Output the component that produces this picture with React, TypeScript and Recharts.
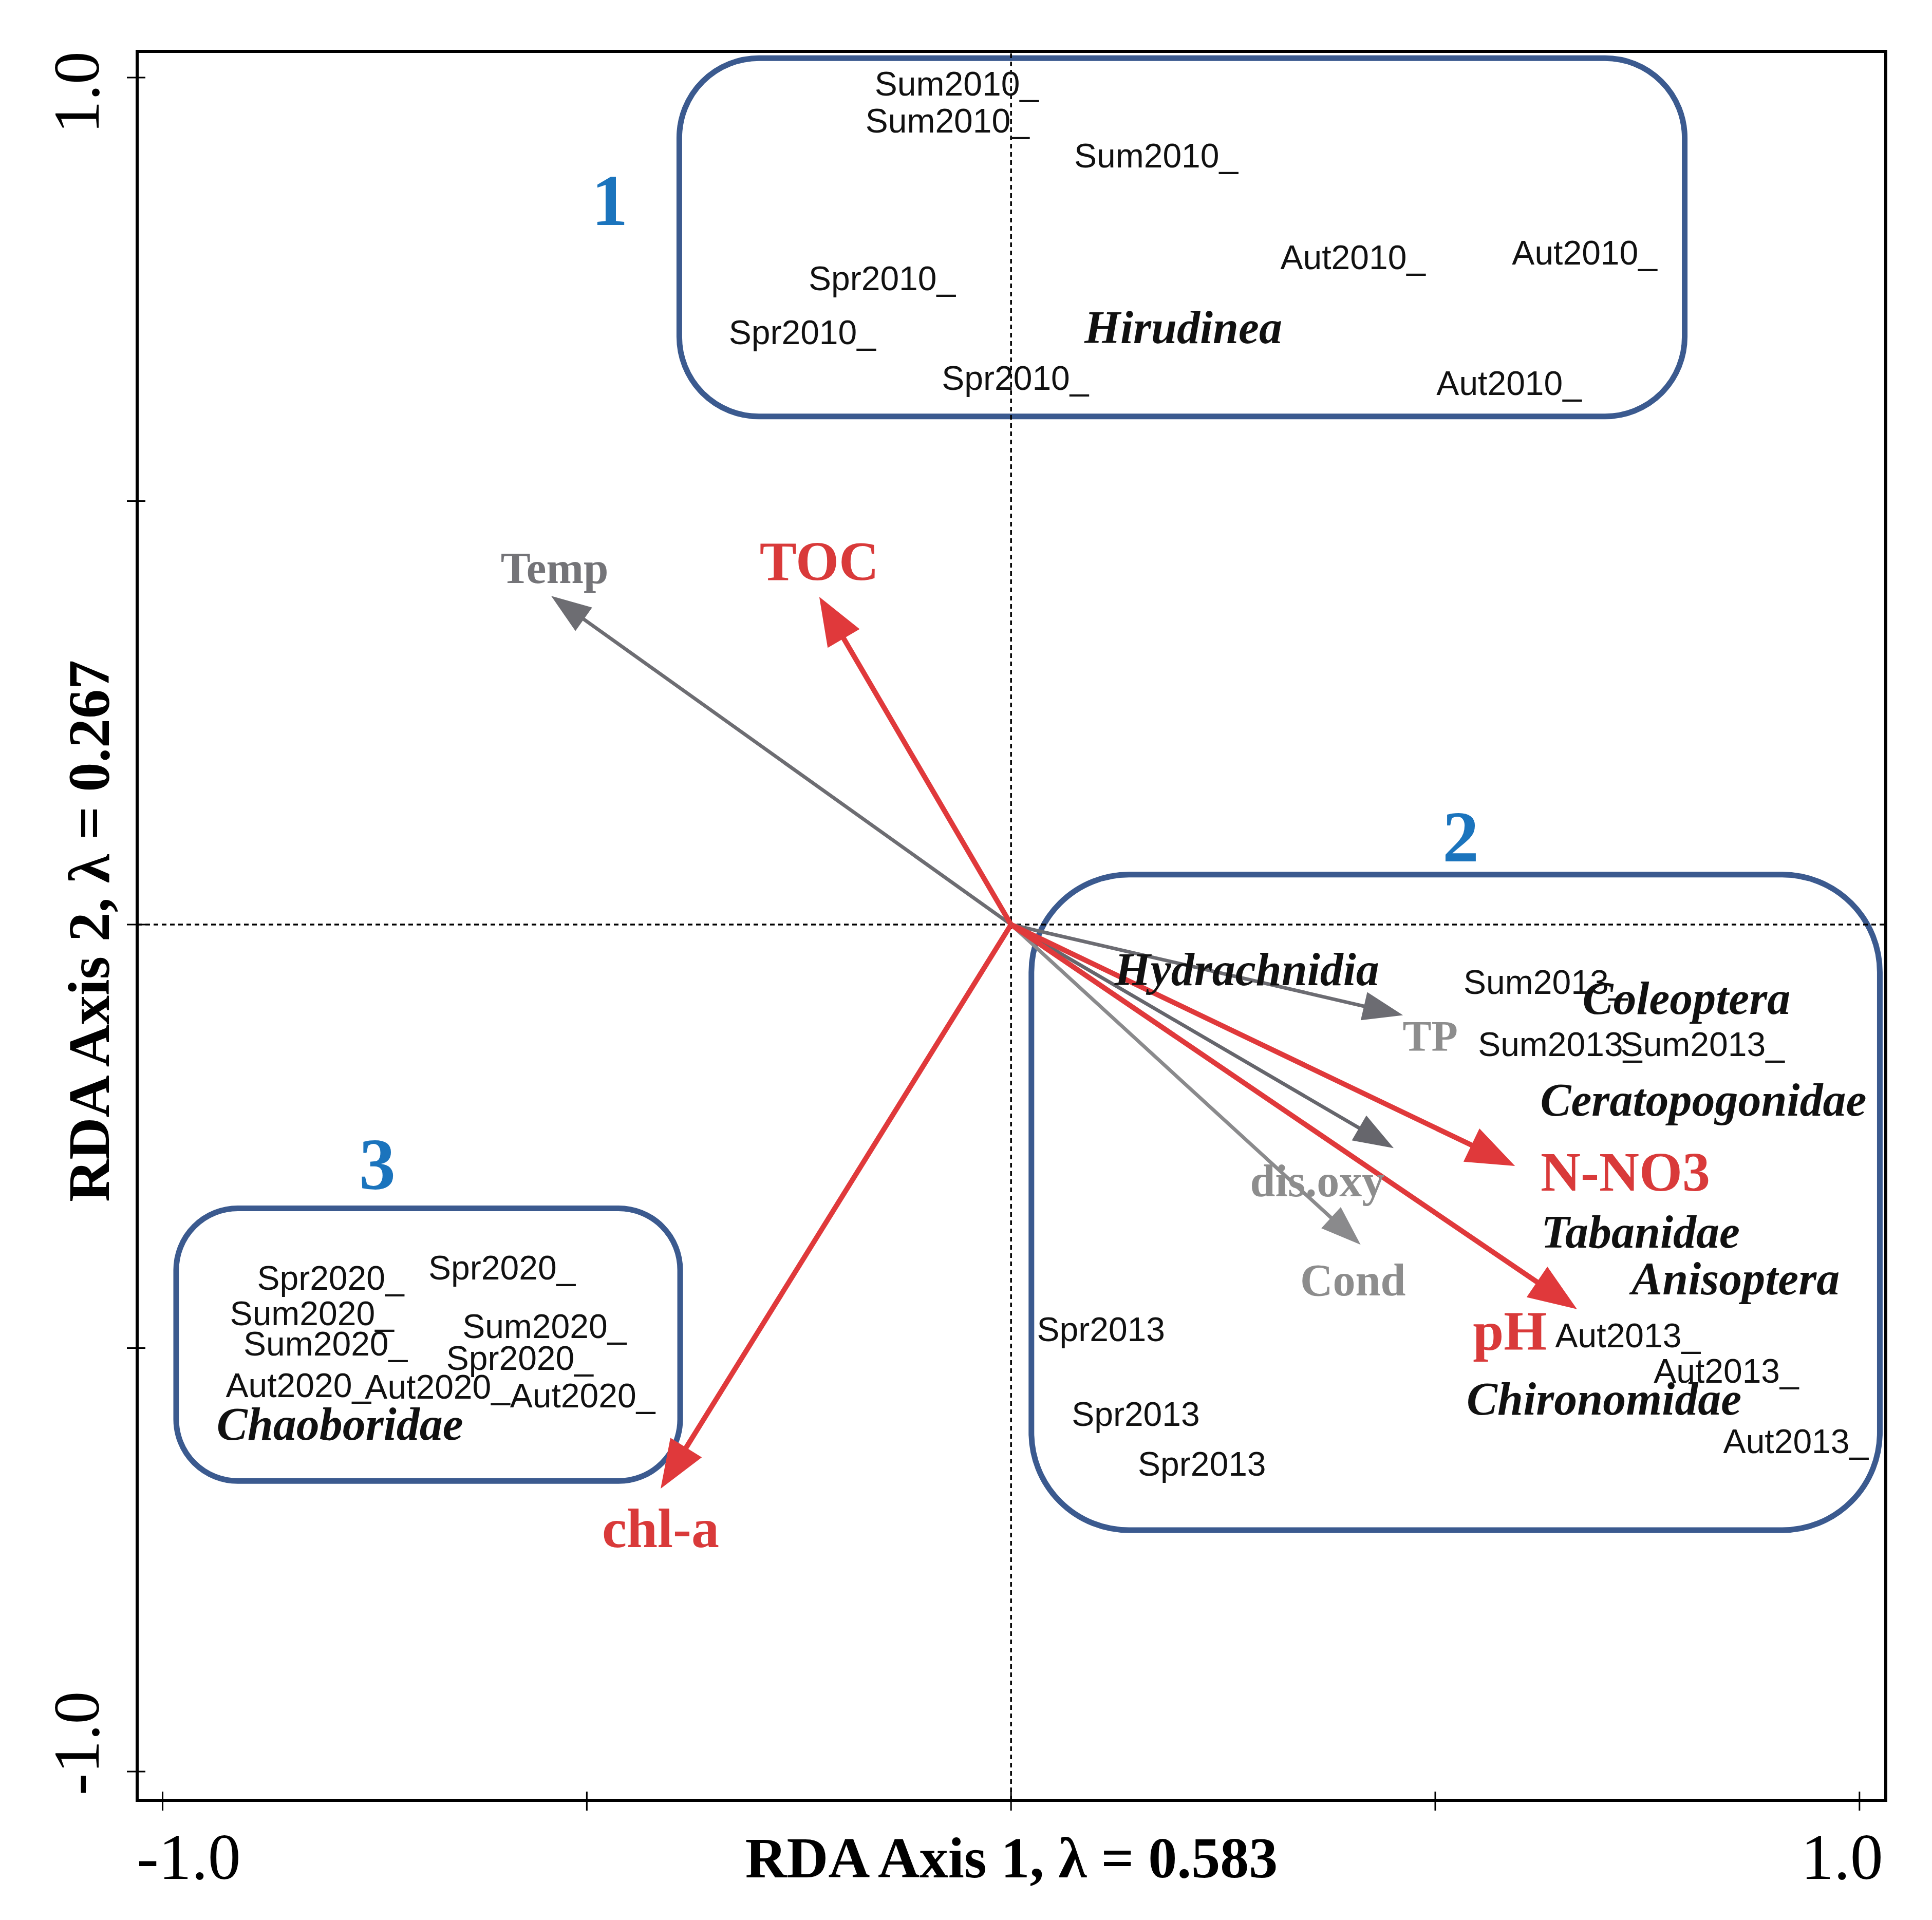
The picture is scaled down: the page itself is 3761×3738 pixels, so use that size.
import {
  ReferenceArea,
  ReferenceLine,
  Scatter,
  ScatterChart,
  XAxis,
  YAxis,
} from "recharts";

// site scores (sample labels)
const sampleNames = [
  "Sum2010_", "Sum2010_", "Sum2010_", "Spr2010_", "Spr2010_", "Spr2010_", "Aut2010_", "Aut2010_", "Aut2010_",
  "Sum2013_", "Sum2013_", "Sum2013_", "Spr2013", "Spr2013", "Spr2013", "Aut2013_", "Aut2013_", "Aut2013_",
  "Spr2020_", "Spr2020_", "Sum2020_", "Sum2020_", "Sum2020_", "Spr2020_", "Aut2020_", "Aut2020_", "Aut2020_",
];
const sampleAxis1 = [
  -0.064, -0.075, 0.171, -0.152, -0.246, 0.005, 0.403, 0.676, 0.587,
  0.63, 0.647, 0.815, 0.106, 0.147, 0.225, 0.727, 0.843, 0.925,
  -0.802, -0.6, -0.824, -0.808, -0.55, -0.579, -0.84, -0.676, -0.505,
];
const sampleAxis2 = [
  0.993, 0.949, 0.908, 0.763, 0.699, 0.645, 0.788, 0.793, 0.639,
  -0.068, -0.141, -0.141, -0.478, -0.578, -0.637, -0.485, -0.527, -0.61,
  -0.417, -0.405, -0.459, -0.495, -0.474, -0.512, -0.544, -0.546, -0.556,
];

// species scores
const speciesNames = [
  "Hirudinea", "Hydrachnidia", "Coleoptera", "Ceratopogonidae", "Tabanidae",
  "Anisoptera", "Chironomidae", "Chaoboridae",
];
const speciesAxis1 = [0.203, 0.278, 0.796, 0.816, 0.742, 0.854, 0.699, -0.791];
const speciesAxis2 = [0.705, -0.053, -0.087, -0.207, -0.363, -0.418, -0.56, -0.59];

// environmental vectors
const envNames = ["Temp", "TOC", "chl-a", "TP", "dis.oxy", "N-NO3", "Cond", "pH"];
const envAxis1 = [-0.542, -0.226, -0.413, 0.462, 0.451, 0.594, 0.412, 0.667];
const envAxis2 = [0.388, 0.387, -0.666, -0.107, -0.264, -0.285, -0.378, -0.454];
const envLabelAxis1 = [-0.538, -0.226, -0.413, 0.494, 0.361, 0.724, 0.403, 0.588];
const envLabelAxis2 = [0.421, 0.429, -0.713, -0.132, -0.303, -0.292, -0.42, -0.48];

// groups (boxes in ordination units)
const groupIds = ["1", "2", "3"];
const groupLabelAxis1 = [-0.473, 0.53, -0.747];
const groupLabelAxis2 = [0.855, 0.104, -0.283];
const groupLeft = [-0.391, 0.024, -0.984];
const groupRight = [0.794, 1.024, -0.39];
const groupTop = [1.023, 0.059, -0.335];
const groupBottom = [0.6, -0.715, -0.657];
const groupRadius = [155, 190, 120];

const xTicks = [-1, -0.5, 0, 0.5, 1];
const yTicks = [-1, -0.5, 0, 0.5, 1];

const samples = sampleNames.map((label, i) => ({ label, x: sampleAxis1[i], y: sampleAxis2[i] }));
const species = speciesNames.map((label, i) => ({ label, x: speciesAxis1[i], y: speciesAxis2[i] }));
const envLabels = envNames.map((label, i) => ({ label, x: envLabelAxis1[i], y: envLabelAxis2[i] }));
const groupLabels = groupIds.map((label, i) => ({ label, x: groupLabelAxis1[i], y: groupLabelAxis2[i] }));

const SERIF = "'Liberation Serif', 'Times New Roman', serif";
const SANS = "'Liberation Sans', Arial, sans-serif";
const RED = "#e0393b";

const envStyle: Record<string, any> = {
  Temp: { stroke: "#6d6d72", label: "#747478", size: 87, red: false },
  TOC: { stroke: RED, label: "#d93a3a", size: 108, red: true },
  "chl-a": { stroke: RED, label: "#d93a3a", size: 108, red: true },
  TP: { stroke: "#6c6c72", label: "#8d8d8d", size: 84, red: false },
  "dis.oxy": { stroke: "#66666c", label: "#8d8d8d", size: 88, red: false },
  "N-NO3": { stroke: RED, label: "#d93a3a", size: 108, red: true },
  Cond: { stroke: "#8a8a8c", label: "#8d8d8d", size: 88, red: false },
  pH: { stroke: RED, label: "#d93a3a", size: 108, red: true },
};

const arrowShape = (color: string, width: number, headLen: number, headHalf: number) => (p: any) => {
  const { x1, y1, x2, y2 } = p;
  const dx = x2 - x1;
  const dy = y2 - y1;
  const len = Math.hypot(dx, dy) || 1;
  const ux = dx / len;
  const uy = dy / len;
  const bx = x2 - ux * headLen;
  const by = y2 - uy * headLen;
  const px = -uy;
  const py = ux;
  return (
    <g>
      <line x1={x1} y1={y1} x2={bx + ux * 4} y2={by + uy * 4} stroke={color} strokeWidth={width} />
      <polygon
        points={`${x2},${y2} ${bx + px * headHalf},${by + py * headHalf} ${bx - px * headHalf},${by - py * headHalf}`}
        fill={color}
      />
    </g>
  );
};

const textShape = (style: any) => (p: any) => (
  <text
    x={p.cx}
    y={p.cy}
    textAnchor="middle"
    dominantBaseline="central"
    {...style}
  >
    {p.payload.label}
  </text>
);

const envLabelShape = (p: any) => {
  const s = envStyle[p.payload.label];
  return (
    <text
      x={p.cx}
      y={p.cy}
      textAnchor="middle"
      dominantBaseline="central"
      fontFamily={SERIF}
      fontWeight="bold"
      fontSize={s.size}
      fill={s.label}
    >
      {p.payload.label}
    </text>
  );
};

const XTick = (props: any) => {
  const { x, y, payload } = props;
  const v = payload.value;
  return (
    <g>
      <line x1={x} y1={y - 17} x2={x} y2={y + 20} stroke="#000" strokeWidth={3} />
      {Math.abs(v) === 1 && (
        <text
          x={x + (v < 0 ? 51 : -34)}
          y={y + 110}
          textAnchor="middle"
          dominantBaseline="central"
          fontFamily={SERIF}
          fontSize={128}
          fill="#000"
        >
          {v.toFixed(1)}
        </text>
      )}
    </g>
  );
};

const YTick = (props: any) => {
  const { x, y, payload } = props;
  const v = payload.value;
  const cy = y + (v > 0 ? 29 : -55);
  return (
    <g>
      <line x1={x - 20} y1={y} x2={x + 16} y2={y} stroke="#000" strokeWidth={3} />
      {Math.abs(v) === 1 && (
        <text
          x={x - 118}
          y={cy}
          textAnchor="middle"
          dominantBaseline="central"
          fontFamily={SERIF}
          fontSize={128}
          fill="#000"
          transform={`rotate(-90, ${x - 118}, ${cy})`}
        >
          {v.toFixed(1)}
        </text>
      )}
    </g>
  );
};

const X_MIN = -1.03;
const X_MAX = 1.031;
const Y_MIN = -1.034;
const Y_MAX = 1.031;

export default function App() {
  return (
    <div style={{ position: "absolute", left: 0, top: 0, background: "#fff" }}>
      <ScatterChart
        width={3761}
        height={3738}
        margin={{ top: 100, right: 90, left: 207, bottom: 173 }}
      >
        <XAxis
          type="number"
          dataKey="x"
          domain={[X_MIN, X_MAX]}
          ticks={xTicks}
          interval={0}
          allowDataOverflow
          axisLine={false}
          tickLine={false}
          tickSize={0}
          tickMargin={0}
          height={60}
          tick={<XTick />}
          label={(p: any) => {
            const vb = p.viewBox;
            return (
              <text
                x={vb.x + vb.width / 2}
                y={vb.y + 112}
                textAnchor="middle"
                dominantBaseline="central"
                fontFamily={SERIF}
                fontWeight="bold"
                fontSize={112}
                fill="#000"
              >
                RDA Axis 1, λ = 0.583
              </text>
            );
          }}
        />
        <YAxis
          type="number"
          dataKey="y"
          domain={[Y_MIN, Y_MAX]}
          ticks={yTicks}
          interval={0}
          allowDataOverflow
          axisLine={false}
          tickLine={false}
          tickSize={0}
          tickMargin={0}
          width={60}
          tick={<YTick />}
          label={(p: any) => {
            const vb = p.viewBox;
            const cx = vb.x + vb.width - 94;
            const cy = vb.y + vb.height / 2 + 10;
            return (
              <text
                x={cx}
                y={cy}
                textAnchor="middle"
                dominantBaseline="central"
                fontFamily={SERIF}
                fontWeight="bold"
                fontSize={114}
                fill="#000"
                transform={`rotate(-90, ${cx}, ${cy})`}
              >
                RDA Axis 2, λ = 0.267
              </text>
            );
          }}
        />

        {/* plot frame */}
        <ReferenceArea
          x1={X_MIN}
          x2={X_MAX}
          y1={Y_MIN}
          y2={Y_MAX}
          fill="none"
          fillOpacity={0}
          stroke="#000"
          strokeWidth={6}
          ifOverflow="visible"
        />

        <ReferenceLine x={0} stroke="#000" strokeWidth={3.5} strokeDasharray="9 7" />
        <ReferenceLine y={0} stroke="#000" strokeWidth={3.5} strokeDasharray="9 7" />

        {groupIds.map((g, i) => (
          <ReferenceArea
            key={`box-${g}`}
            x1={groupLeft[i]}
            x2={groupRight[i]}
            y1={groupBottom[i]}
            y2={groupTop[i]}
            ifOverflow="visible"
            shape={(p: any) => (
              <rect
                x={p.x}
                y={p.y}
                width={p.width}
                height={p.height}
                rx={groupRadius[i]}
                ry={groupRadius[i]}
                fill="none"
                stroke="#3b5a8f"
                strokeWidth={11}
              />
            )}
          />
        ))}

        {envNames.map((n, i) => {
          const s = envStyle[n];
          return (
            <ReferenceLine
              key={`arrow-${n}`}
              segment={[
                { x: 0, y: 0 },
                { x: envAxis1[i], y: envAxis2[i] },
              ]}
              ifOverflow="visible"
              shape={arrowShape(s.stroke, s.red ? 10 : 7, s.red ? 94 : 78, s.red ? 36 : 28)}
            />
          );
        })}

        <Scatter
          data={samples}
          isAnimationActive={false}
          shape={textShape({ fontFamily: SANS, fontSize: 66, fill: "#111" })}
        />
        <Scatter
          data={species}
          isAnimationActive={false}
          shape={textShape({
            fontFamily: SERIF,
            fontSize: 90,
            fontWeight: "bold",
            fontStyle: "italic",
            fill: "#111",
          })}
        />
        <Scatter data={envLabels} isAnimationActive={false} shape={envLabelShape} />
        <Scatter
          data={groupLabels}
          isAnimationActive={false}
          shape={textShape({
            fontFamily: SERIF,
            fontSize: 142,
            fontWeight: "bold",
            fill: "#1b74bd",
          })}
        />
      </ScatterChart>
    </div>
  );
}
